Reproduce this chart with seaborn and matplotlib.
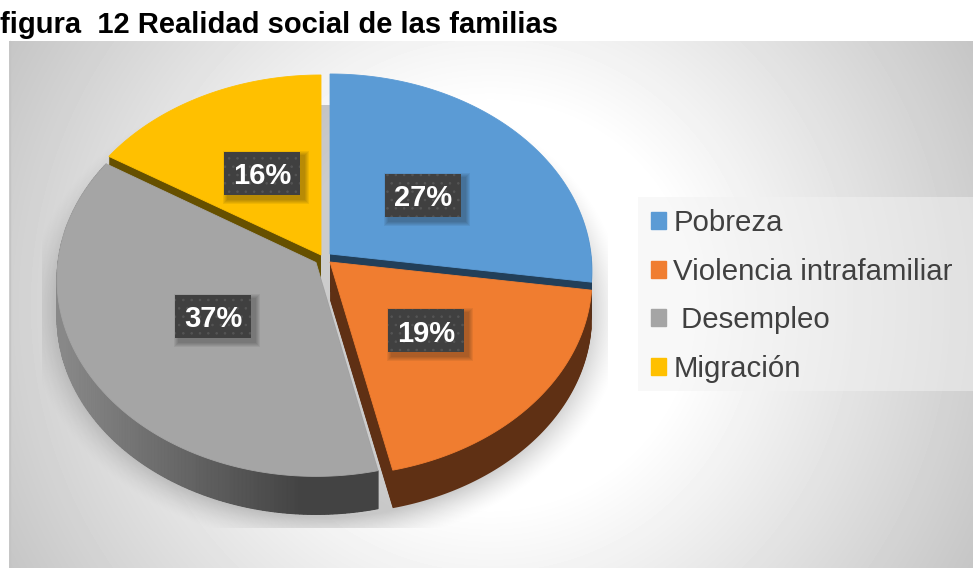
import numpy as np
import seaborn as sns
import matplotlib.pyplot as plt
from matplotlib.patches import Patch, Rectangle

categorias = ['Pobreza', 'Violencia intrafamiliar', ' Desempleo', 'Migración']
valores = [27, 19, 37, 16]
etiquetas = ['27%', '19%', '37%', '16%']

colores = sns.color_palette(['#5b9bd5', '#f07d30', '#a5a5a5', '#ffc000'])
lados = ['#223f59', '#5f3014', '#444444', '#665000']

# layout in reference pixels
apex = [(330, 254), (330, 262), (316, 262.5), (321, 255)]
radios = [261, 261, 258, 261]
label_pos = [(423, 195.5), (426, 330.5), (213, 316), (262, 173.5)]
orden = [3, 0, 2, 1]  # back slices first
grosor = 38
W, H = 973, 568

sns.set_theme(style='white')
plt.rcParams['font.family'] = ['Liberation Sans', 'DejaVu Sans']
plt.rcParams['hatch.linewidth'] = 0.6

fig, ax = plt.subplots(figsize=(W / 100, H / 100), dpi=100)
fig.subplots_adjust(0, 0, 1, 1)

wedges, _ = ax.pie(valores, startangle=90, counterclock=False)
for w in wedges:
    w.set_visible(False)
ax.set_aspect('auto')
ax.axis('off')


def proyecta(theta, cx, cy, rx):
    # circle to screen with a bit of perspective, front is bigger
    u, v = np.cos(np.radians(theta)), np.sin(np.radians(theta))
    f = 1 + 0.086 * v
    return cx + rx * u / f, cy - 195.5 * v / f


# background gradient
yy, xx = np.mgrid[41:H, 9:W]
dist = np.hypot(xx - 490, yy - 305)
fondo = (255 - np.clip(dist - 200, 0, None) * 0.165) / 255
ax.imshow(fondo, cmap='gray', vmin=0, vmax=1, extent=(9, W, H, 41), aspect='auto', zorder=0)
ax.plot([9.5, 9.5], [41, H], color='#c4c4c4', lw=1, zorder=0.5)

# soft shadow, clipped to a box like the original
yy, xx = np.mgrid[105:528, 42:608]
rad = np.hypot((xx - 325) / 262, (yy - 310) / 207)
sombra = np.zeros(xx.shape + (4,))
sombra[..., 3] = 0.2 * np.clip(1 - (rad - 1) * 240 / 36, 0, 1) ** 1.5
ax.imshow(sombra, extent=(42, 608, 528, 105), aspect='auto', zorder=1)
ax.set_xlim(0, W)
ax.set_ylim(H, 0)

z = 2
for i in orden:
    w = wedges[i]
    cx, cy = apex[i]
    theta = np.linspace(w.theta1, w.theta2, 160)
    x, y = proyecta(theta, cx, cy, radios[i])
    x, y = np.r_[cx, x], np.r_[cy, y]
    for d in range(grosor, 0, -1):
        ax.fill(x, y + d, color=lados[i], lw=0, zorder=z)
    if i == 2:
        # rim of the grey slice goes from mid grey to dark
        xa, ya = x[1:], y[1:]
        for k in range(len(xa) - 1):
            t = np.clip((xa[k] - 65) / 235, 0, 1)
            g = (0x88 + (0x43 - 0x88) * t) / 255
            ax.fill([xa[k], xa[k + 1], xa[k + 1], xa[k]],
                    [ya[k], ya[k + 1], ya[k + 1] + grosor, ya[k] + grosor],
                    color=(g, g, g), lw=0.8, zorder=z)
    ax.fill(x, y, color=colores[i], lw=0.6, zorder=z)
    z += 1

for txt, (lx, ly) in zip(etiquetas, label_pos):
    # soft shadow in layers, then the dotted box
    for s in [5, 4, 3, 2, 1]:
        ax.add_patch(Rectangle((lx - 38 + 4 - s, ly - 21.5 + 4 - s), 76 + 2 * s, 43 + 2 * s, fc='k', alpha=0.07,
                               lw=0, zorder=9))
    ax.add_patch(Rectangle((lx - 38, ly - 21.5), 76, 43, fc='#404040', ec='#555555', lw=0, hatch='..', zorder=9.5))
    ax.text(lx, ly, txt, color='white', fontsize=21, fontweight='bold', ha='center', va='center_baseline', zorder=10)

# legend panel
ax.add_patch(Rectangle((638, 197), W - 638, 194, fc='#f2f2f2', alpha=0.5, lw=0, zorder=5))
handles = [Patch(color=c, label=n) for c, n in zip(colores, categorias)]
ax.legend(handles=handles, loc='upper left', bbox_to_anchor=(651, 209), bbox_transform=ax.transData,
          frameon=False, fontsize=21.2, labelcolor='#404040', labelspacing=0.7, handlelength=0.52,
          handleheight=0.52, handletextpad=0.24, borderpad=0, borderaxespad=0)

fig.text(0.5 / W, 1 - 25 / H, 'figura  12 Realidad social de las familias', fontsize=21,
         fontweight='bold', color='black', ha='left', va='center')

fig.savefig('out.png', dpi=100)
